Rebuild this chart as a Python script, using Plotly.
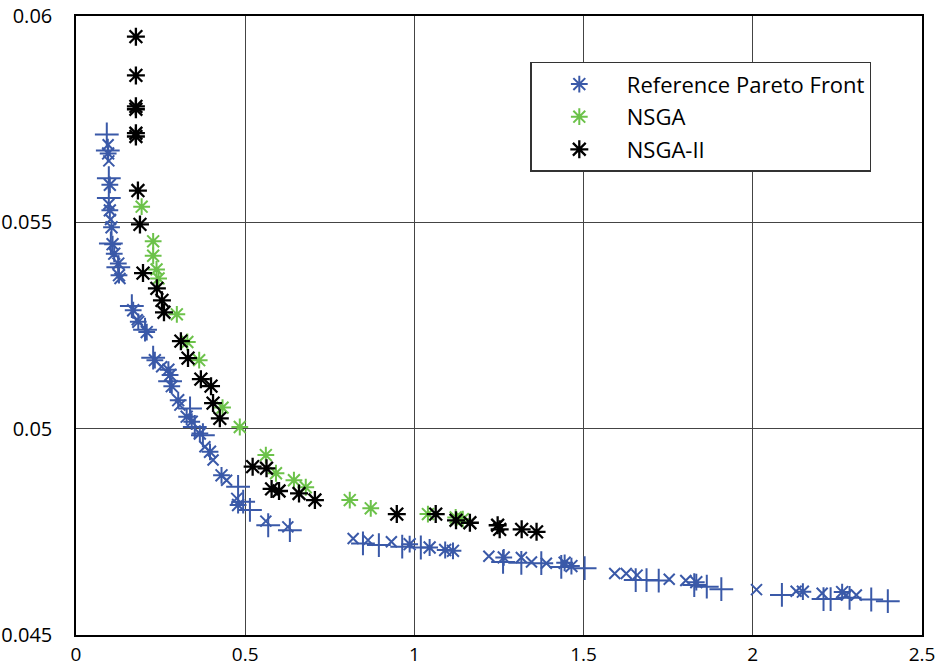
import plotly.graph_objects as go

# NSGA-II (black asterisks)
nsga2_x = [0.177, 0.177, 0.177, 0.177, 0.177, 0.177, 0.183, 0.189, 0.198, 0.239, 0.254, 0.260,
           0.310, 0.331, 0.369, 0.399, 0.405, 0.425, 0.522, 0.563, 0.578, 0.600, 0.659, 0.706,
           0.948, 1.063, 1.123, 1.164, 1.246, 1.252, 1.317, 1.361]
nsga2_y = [0.05950, 0.05856, 0.05781, 0.05774, 0.05716, 0.05708, 0.05577, 0.05495, 0.05377, 0.05340, 0.05311, 0.05282,
           0.05212, 0.05171, 0.05120, 0.05103, 0.05062, 0.05025, 0.04908, 0.04904, 0.04854, 0.04849, 0.04843, 0.04827,
           0.04793, 0.04793, 0.04778, 0.04772, 0.04766, 0.04756, 0.04756, 0.04750]

# NSGA (green asterisks)
nsga_x = [0.194, 0.228, 0.228, 0.238, 0.244, 0.298, 0.329, 0.364, 0.433, 0.484, 0.561, 0.591,
          0.644, 0.679, 0.809, 0.871, 1.040, 1.122, 1.143]
nsga_y = [0.05538, 0.05454, 0.05419, 0.05386, 0.05364, 0.05277, 0.05210, 0.05166, 0.05051, 0.05004, 0.04936, 0.04892,
          0.04875, 0.04858, 0.04827, 0.04807, 0.04793, 0.04785, 0.04781]

# Reference Pareto front: asterisk points
ref_star_x = [0.095, 0.100, 0.100, 0.105, 0.108, 0.113, 0.125, 0.127, 0.169, 0.184, 0.209, 0.233,
              0.273, 0.278, 0.283, 0.302, 0.327, 0.342, 0.366, 0.396, 0.430, 0.479, 0.986, 1.045,
              1.091, 1.114, 1.264, 1.444, 1.464, 1.833, 2.148, 2.264]
ref_star_y = [0.05667, 0.05591, 0.05529, 0.05488, 0.05447, 0.05424, 0.05400, 0.05372, 0.05287, 0.05259, 0.05234, 0.05166,
              0.05143, 0.05130, 0.05103, 0.05069, 0.05029, 0.05017, 0.04988, 0.04944, 0.04887, 0.04815, 0.04720, 0.04712,
              0.04706, 0.04704, 0.04688, 0.04675, 0.04667, 0.04628, 0.04605, 0.04604]

# Reference Pareto front: plus points
ref_plus_x = [0.091, 0.094, 0.097, 0.097, 0.103, 0.125, 0.165, 0.204, 0.228, 0.278, 0.337, 0.351,
              0.375, 0.479, 0.494, 0.514, 0.568, 0.632, 0.848, 0.895, 0.964, 1.019, 1.262, 1.316,
              1.375, 1.434, 1.503, 1.654, 1.686, 1.722, 1.827, 1.864, 1.907, 2.086, 2.209, 2.230,
              2.286, 2.350, 2.399]
ref_plus_y = [0.05713, 0.05674, 0.05607, 0.05559, 0.05449, 0.05391, 0.05297, 0.05240, 0.05172, 0.05115, 0.05049, 0.05004,
              0.04984, 0.04859, 0.04823, 0.04803, 0.04766, 0.04754, 0.04722, 0.04718, 0.04714, 0.04712, 0.04677, 0.04675,
              0.04674, 0.04665, 0.04662, 0.04633, 0.04633, 0.04632, 0.04621, 0.04617, 0.04611, 0.04597, 0.04587, 0.04587,
              0.04590, 0.04586, 0.04582]

# Reference Pareto front: x points
ref_x_x = [0.095, 0.097, 0.097, 0.102, 0.130, 0.181, 0.253, 0.307, 0.381, 0.405, 0.445, 0.475,
           0.561, 0.626, 0.819, 0.863, 0.932, 1.220, 1.316, 1.346, 1.390, 1.592, 1.626, 1.658,
           1.753, 1.802, 2.011, 2.128, 2.205, 2.276, 2.306]
ref_x_y = [0.05688, 0.05649, 0.05544, 0.05507, 0.05364, 0.05264, 0.05150, 0.05057, 0.04956, 0.04924, 0.04875, 0.04831,
           0.04776, 0.04762, 0.04734, 0.04730, 0.04726, 0.04691, 0.04688, 0.04677, 0.04674, 0.04649, 0.04649, 0.04645,
           0.04635, 0.04632, 0.04610, 0.04606, 0.04601, 0.04597, 0.04597]

x_ticks = [0, 0.5, 1, 1.5, 2, 2.5]
x_tick_labels = ["0", "0.5", "1", "1.5", "2", "2.5"]
y_ticks = [0.045, 0.05, 0.055, 0.06]
y_tick_labels = ["0.045", "0.05", "0.055", "0.06"]

BLUE = "#3a59a8"
GREEN = "#6cc24a"
BLACK = "#000000"

fig = go.Figure()

fig.add_trace(go.Scatter(x=ref_plus_x, y=ref_plus_y, mode="markers", showlegend=False,
                         legendgroup="ref",
                         marker=dict(symbol="cross-thin-open", size=17, color=BLUE,
                                     line=dict(color=BLUE, width=2))))
fig.add_trace(go.Scatter(x=ref_x_x, y=ref_x_y, mode="markers", showlegend=False,
                         legendgroup="ref",
                         marker=dict(symbol="x-thin-open", size=11, color=BLUE,
                                     line=dict(color=BLUE, width=2))))
fig.add_trace(go.Scatter(x=ref_star_x, y=ref_star_y, mode="markers", name="Reference Pareto Front",
                         legendgroup="ref",
                         marker=dict(symbol="asterisk-open", size=14, color=BLUE,
                                     line=dict(color=BLUE, width=2))))
fig.add_trace(go.Scatter(x=nsga_x, y=nsga_y, mode="markers", name="NSGA",
                         legendgroup="nsga",
                         marker=dict(symbol="asterisk-open", size=14, color=GREEN,
                                     line=dict(color=GREEN, width=2))))
fig.add_trace(go.Scatter(x=nsga2_x, y=nsga2_y, mode="markers", name="NSGA-II",
                         legendgroup="nsga2",
                         marker=dict(symbol="asterisk-open", size=15, color=BLACK,
                                     line=dict(color=BLACK, width=2.3))))

fig.update_layout(
    width=940, height=667,
    margin=dict(l=76, r=18, t=16, b=32, autoexpand=False),
    paper_bgcolor="white", plot_bgcolor="white",
    font=dict(family="Open Sans, DejaVu Sans, sans-serif", size=20, color="black"),
    legend=dict(x=0.537, y=0.926, xanchor="left", yanchor="top",
                bgcolor="white", bordercolor="#333333", borderwidth=1.5,
                font=dict(size=22), tracegroupgap=1, itemwidth=85),
)
fig.update_xaxes(range=[0, 2.5], tickvals=x_ticks, ticktext=x_tick_labels,
                 showgrid=True, gridcolor="#444444", gridwidth=1,
                 showline=True, linecolor="black", linewidth=1.5, mirror=True,
                 zeroline=False, ticks="", ticklabelstandoff=1, automargin=False,
                 tickfont=dict(size=19))
fig.update_yaxes(range=[0.045, 0.06], tickvals=y_ticks, ticktext=y_tick_labels,
                 showgrid=True, gridcolor="#444444", gridwidth=1,
                 showline=True, linecolor="black", linewidth=1.5, mirror=True,
                 zeroline=False, ticks="", ticklabelstandoff=18, automargin=False,
                 tickfont=dict(size=20))

# remove the default 8px page margin so the 940x667 figure fills the window exactly
fig.write_html("out.html", config={"displayModeBar": False},
               post_script="document.body.style.margin='0';document.body.style.overflow='hidden';")
